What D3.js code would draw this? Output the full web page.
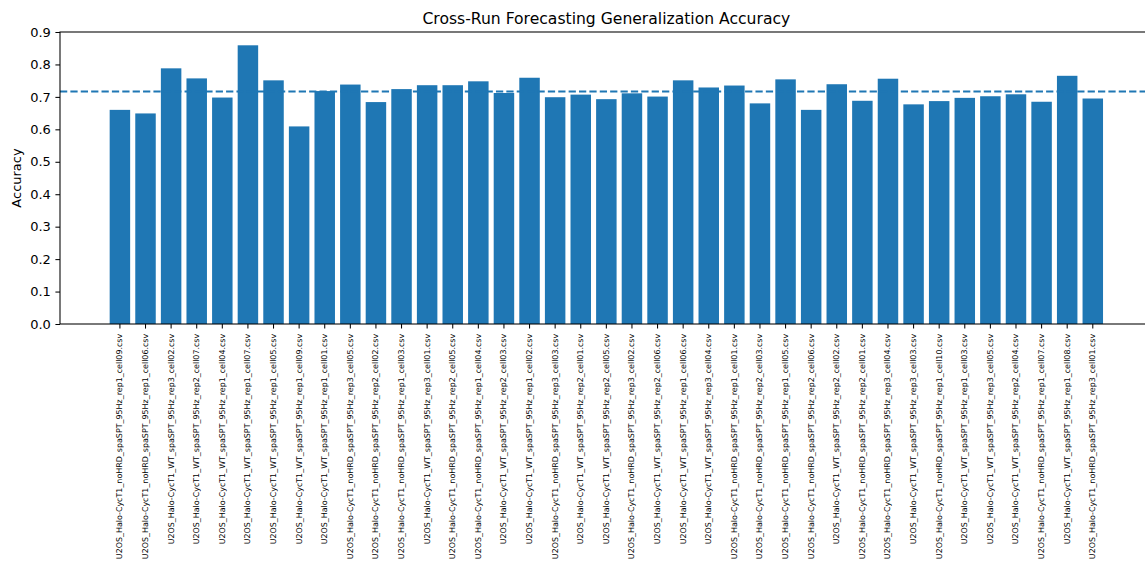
<!DOCTYPE html>
<html>
<head>
<meta charset="utf-8">
<script src="https://cdn.jsdelivr.net/npm/d3@7"></script>
<style>
  html, body { margin: 0; padding: 0; background: #fff; }
  svg { display: block; font-family: "DejaVu Sans", sans-serif; }
</style>
</head>
<body>
<svg id="chart" width="1145" height="568"></svg>
<script>
const categories = [
  "U2OS_Halo-CycT1_noHRD_spaSPT_95Hz_rep1_cell09.csv",
  "U2OS_Halo-CycT1_noHRD_spaSPT_95Hz_rep1_cell06.csv",
  "U2OS_Halo-CycT1_WT_spaSPT_95Hz_rep3_cell02.csv",
  "U2OS_Halo-CycT1_WT_spaSPT_95Hz_rep2_cell07.csv",
  "U2OS_Halo-CycT1_WT_spaSPT_95Hz_rep1_cell04.csv",
  "U2OS_Halo-CycT1_WT_spaSPT_95Hz_rep1_cell07.csv",
  "U2OS_Halo-CycT1_WT_spaSPT_95Hz_rep1_cell05.csv",
  "U2OS_Halo-CycT1_WT_spaSPT_95Hz_rep1_cell09.csv",
  "U2OS_Halo-CycT1_WT_spaSPT_95Hz_rep1_cell01.csv",
  "U2OS_Halo-CycT1_noHRD_spaSPT_95Hz_rep3_cell05.csv",
  "U2OS_Halo-CycT1_noHRD_spaSPT_95Hz_rep2_cell02.csv",
  "U2OS_Halo-CycT1_noHRD_spaSPT_95Hz_rep1_cell03.csv",
  "U2OS_Halo-CycT1_WT_spaSPT_95Hz_rep3_cell01.csv",
  "U2OS_Halo-CycT1_noHRD_spaSPT_95Hz_rep2_cell05.csv",
  "U2OS_Halo-CycT1_noHRD_spaSPT_95Hz_rep1_cell04.csv",
  "U2OS_Halo-CycT1_WT_spaSPT_95Hz_rep2_cell03.csv",
  "U2OS_Halo-CycT1_WT_spaSPT_95Hz_rep1_cell02.csv",
  "U2OS_Halo-CycT1_noHRD_spaSPT_95Hz_rep3_cell03.csv",
  "U2OS_Halo-CycT1_WT_spaSPT_95Hz_rep2_cell01.csv",
  "U2OS_Halo-CycT1_WT_spaSPT_95Hz_rep2_cell05.csv",
  "U2OS_Halo-CycT1_noHRD_spaSPT_95Hz_rep3_cell02.csv",
  "U2OS_Halo-CycT1_WT_spaSPT_95Hz_rep2_cell06.csv",
  "U2OS_Halo-CycT1_WT_spaSPT_95Hz_rep1_cell06.csv",
  "U2OS_Halo-CycT1_WT_spaSPT_95Hz_rep3_cell04.csv",
  "U2OS_Halo-CycT1_noHRD_spaSPT_95Hz_rep1_cell01.csv",
  "U2OS_Halo-CycT1_noHRD_spaSPT_95Hz_rep2_cell03.csv",
  "U2OS_Halo-CycT1_noHRD_spaSPT_95Hz_rep1_cell05.csv",
  "U2OS_Halo-CycT1_noHRD_spaSPT_95Hz_rep2_cell06.csv",
  "U2OS_Halo-CycT1_WT_spaSPT_95Hz_rep2_cell02.csv",
  "U2OS_Halo-CycT1_noHRD_spaSPT_95Hz_rep2_cell01.csv",
  "U2OS_Halo-CycT1_noHRD_spaSPT_95Hz_rep3_cell04.csv",
  "U2OS_Halo-CycT1_WT_spaSPT_95Hz_rep3_cell03.csv",
  "U2OS_Halo-CycT1_noHRD_spaSPT_95Hz_rep1_cell10.csv",
  "U2OS_Halo-CycT1_WT_spaSPT_95Hz_rep1_cell03.csv",
  "U2OS_Halo-CycT1_WT_spaSPT_95Hz_rep3_cell05.csv",
  "U2OS_Halo-CycT1_WT_spaSPT_95Hz_rep2_cell04.csv",
  "U2OS_Halo-CycT1_noHRD_spaSPT_95Hz_rep1_cell07.csv",
  "U2OS_Halo-CycT1_WT_spaSPT_95Hz_rep1_cell08.csv",
  "U2OS_Halo-CycT1_noHRD_spaSPT_95Hz_rep3_cell01.csv"
];
const accuracy = [
  0.660, 0.649, 0.788, 0.757, 0.698, 0.859, 0.751, 0.609, 0.718, 0.738,
  0.684, 0.724, 0.736, 0.736, 0.748, 0.712, 0.759, 0.699, 0.707, 0.693,
  0.711, 0.701, 0.751, 0.729, 0.735, 0.680, 0.754, 0.660, 0.739, 0.688,
  0.756, 0.677, 0.687, 0.697, 0.702, 0.708, 0.685, 0.765, 0.695
];
const yTicks = [0.0, 0.1, 0.2, 0.3, 0.4, 0.5, 0.6, 0.7, 0.8, 0.9];
const titleText = "Cross-Run Forecasting Generalization Accuracy";
const yLabelText = "Accuracy";
const meanAccuracy = d3.mean(accuracy);

(function () {
const svg = d3.select("#chart");
const mLeft = 60, mRight = 1152.7, mTop = 32, mBottom = 324;
const barColor = "#1f77b4";

const x = d3.scaleBand().domain(categories).range([mLeft, mRight])
  .paddingInner(0.2).paddingOuter(1.94);
const y = d3.scaleLinear().domain([0, 0.9]).range([mBottom, mTop]);

// bars
svg.append("g").selectAll("rect").data(accuracy).join("rect")
  .attr("x", (d, i) => x(categories[i]))
  .attr("width", x.bandwidth())
  .attr("y", d => y(d))
  .attr("height", d => y(0) - y(d))
  .attr("fill", barColor);

// mean dashed line
svg.append("line")
  .attr("x1", mLeft).attr("x2", mRight)
  .attr("y1", y(meanAccuracy)).attr("y2", y(meanAccuracy))
  .attr("stroke", barColor).attr("stroke-width", 1.96)
  .attr("stroke-dasharray", "7.25,3.13");

// y axis
const yAxis = d3.axisLeft(y).tickValues(yTicks).tickFormat(d3.format(".1f"))
  .tickSize(4.6).tickPadding(4.6);
const gy = svg.append("g").attr("transform", `translate(${mLeft},0)`).call(yAxis);
gy.select(".domain").remove();
gy.selectAll("line").attr("stroke", "#000").attr("stroke-width", 1.05);
gy.selectAll("text").attr("font-size", "13px").attr("fill", "#000")
  .attr("font-family", "DejaVu Sans");

// x axis
const xAxis = d3.axisBottom(x).tickSize(4.6).tickPadding(4.6);
const gx = svg.append("g").attr("transform", `translate(0,${mBottom})`).call(xAxis);
gx.select(".domain").remove();
gx.selectAll("line").attr("stroke", "#000").attr("stroke-width", 1.05);
gx.selectAll("text")
  .attr("font-size", "7.95px").attr("fill", "#000").attr("font-family", "DejaVu Sans")
  .attr("text-anchor", "end").attr("dy", null)
  .attr("transform", "translate(0,9.8) rotate(-90)")
  .attr("x", 0).attr("y", 0).attr("dominant-baseline", "central");

// spines
svg.append("rect").attr("x", mLeft).attr("y", mTop)
  .attr("width", mRight - mLeft).attr("height", mBottom - mTop)
  .attr("fill", "none").attr("stroke", "#000").attr("stroke-width", 1.05);

// title
svg.append("text").attr("x", (mLeft + mRight) / 2).attr("y", 23.5)
  .attr("text-anchor", "middle").attr("font-size", "15.6px").attr("fill", "#000")
  .text(titleText);

// y label
svg.append("text")
  .attr("transform", `translate(20.5,${(mTop + mBottom) / 2}) rotate(-90)`)
  .attr("text-anchor", "middle").attr("font-size", "13px").attr("fill", "#000")
  .text(yLabelText);
})();
</script>
</body>
</html>
